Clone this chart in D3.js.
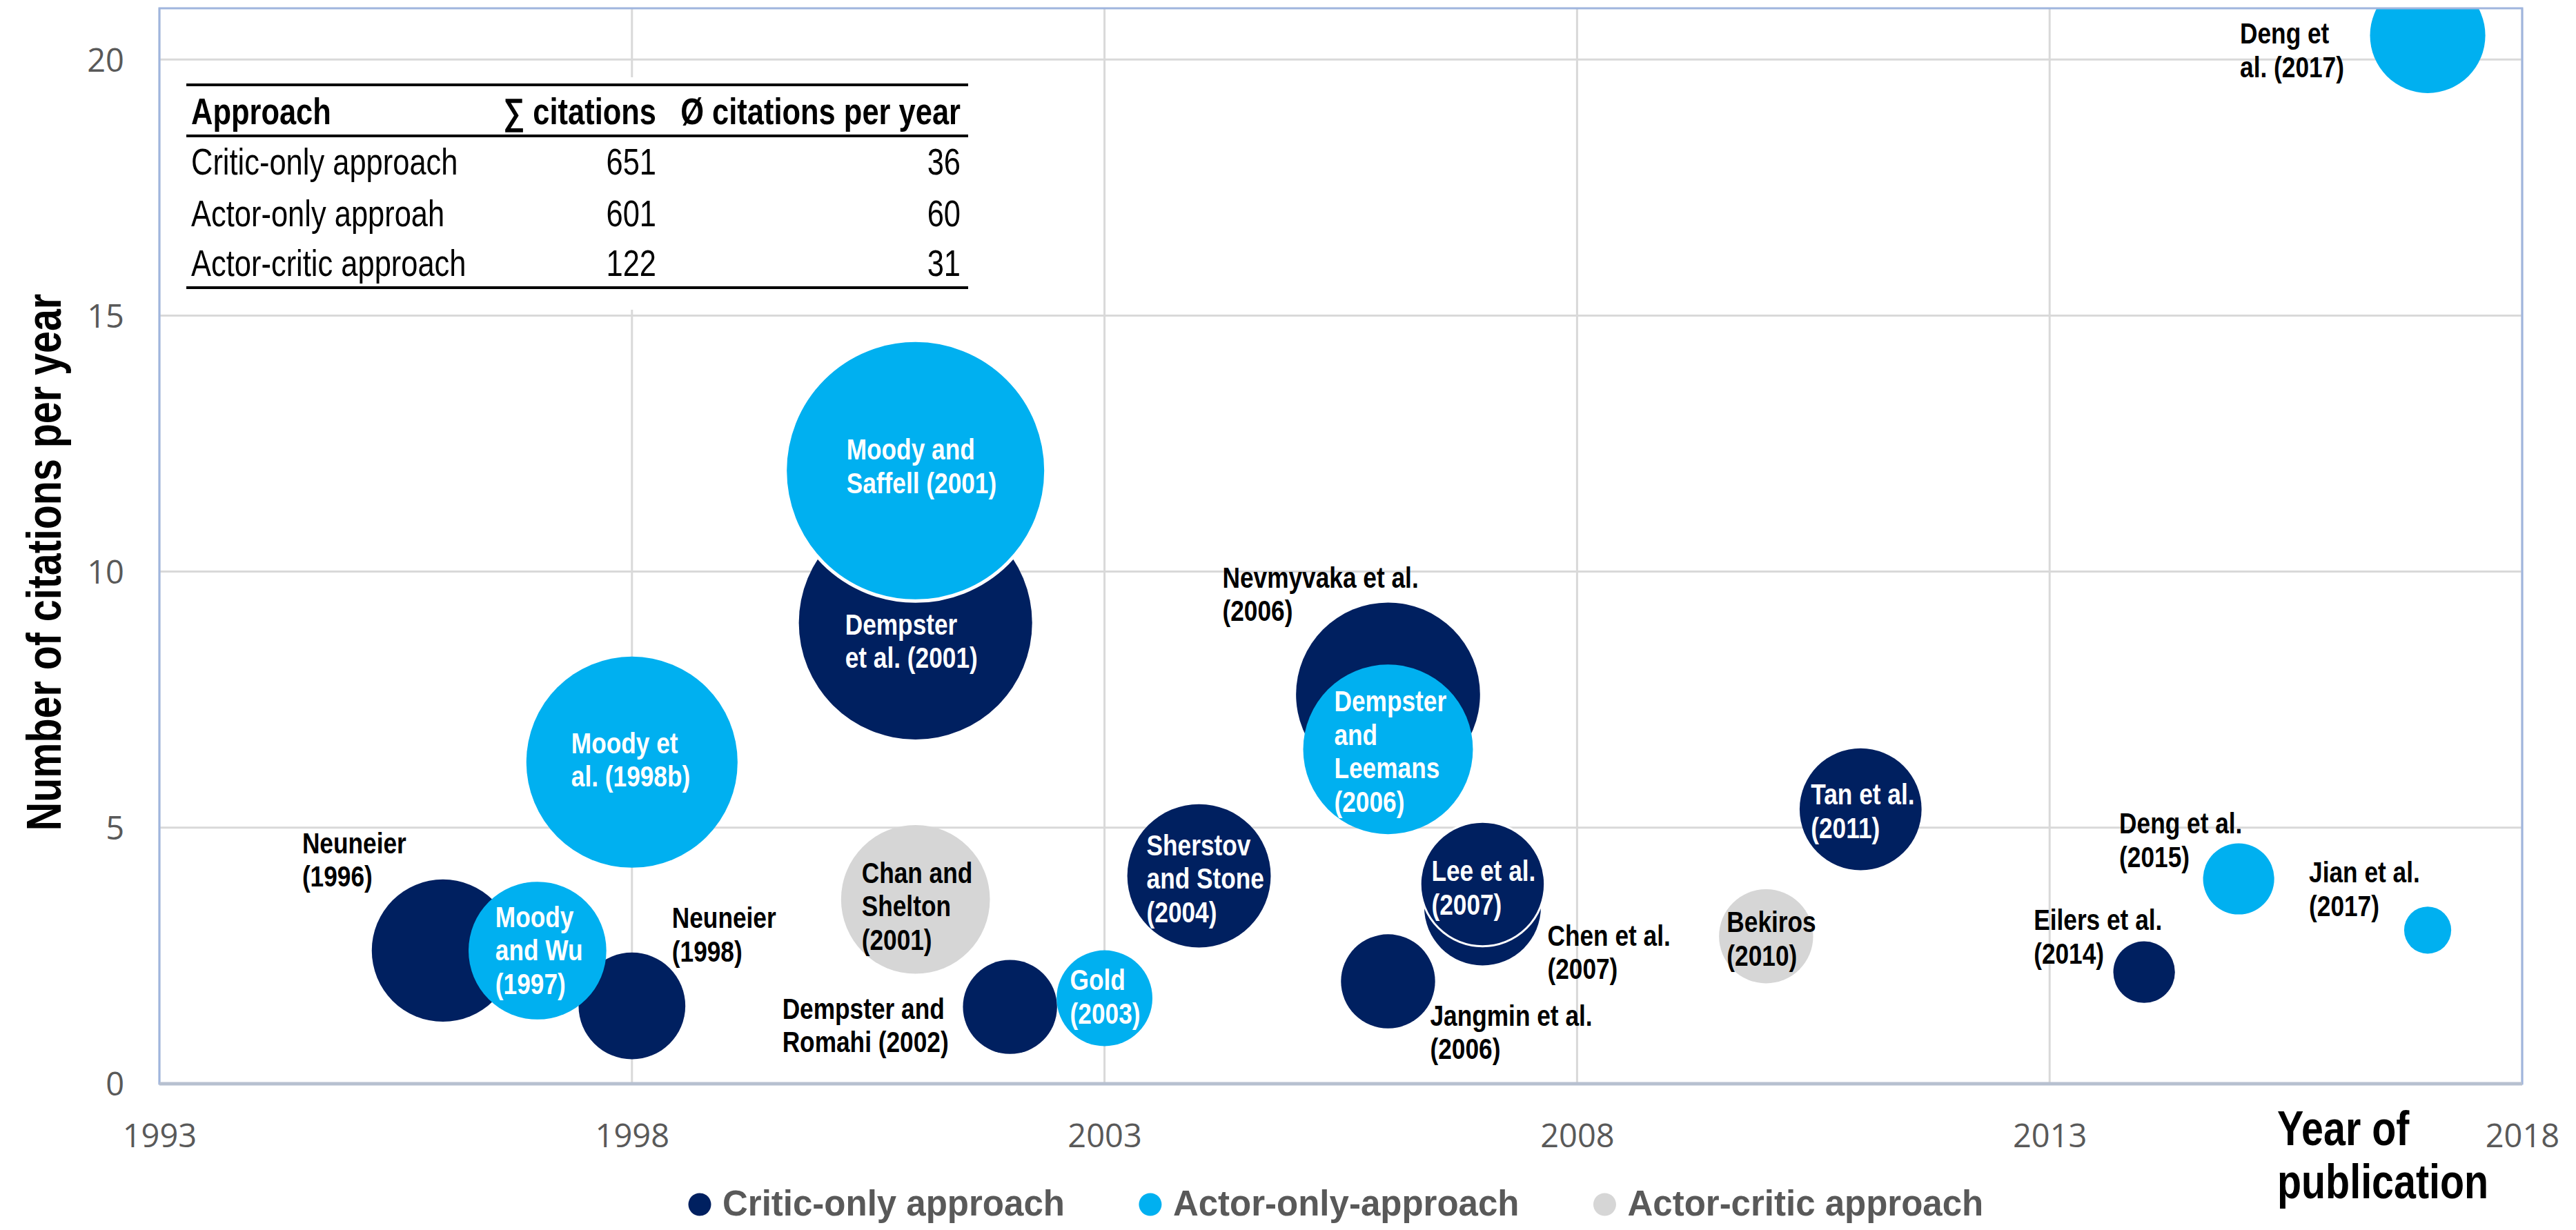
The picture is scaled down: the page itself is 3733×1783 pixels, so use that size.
<!DOCTYPE html>
<html lang="en">
<head>
<meta charset="UTF-8">
<title>Citations per year by reinforcement learning approach</title>
<script src="https://d3js.org/d3.v7.min.js"></script>
<style>
  body { margin: 0; background: #fff; }
  svg { display: block; font-family: "Liberation Sans", Arial, sans-serif; }
</style>
</head>
<body>
<div id="chart"></div>
<script>
// ---- data ----
const authors = [
  "Neuneier (1996)", "Neuneier (1998)", "Dempster et al. (2001)", "Dempster and Romahi (2002)",
  "Sherstov and Stone (2004)", "Nevmyvaka et al. (2006)", "Jangmin et al. (2006)", "Chen et al. (2007)",
  "Lee et al. (2007)", "Tan et al. (2011)", "Eilers et al. (2014)",
  "Moody and Wu (1997)", "Moody et al. (1998b)", "Moody and Saffell (2001)", "Gold (2003)",
  "Dempster and Leemans (2006)", "Deng et al. (2015)", "Jian et al. (2017)", "Deng et al. (2017)",
  "Chan and Shelton (2001)", "Bekiros (2010)"
];
const approaches = [
  "critic", "critic", "critic", "critic", "critic", "critic", "critic", "critic", "critic", "critic", "critic",
  "actor", "actor", "actor", "actor", "actor", "actor", "actor", "actor",
  "actorcritic", "actorcritic"
];
const pubYears = [1996, 1998, 2001, 2002, 2004, 2006, 2006, 2007, 2007, 2011, 2014,
                  1997, 1998, 2001, 2003, 2006, 2015, 2017, 2017,
                  2001, 2010];
const citesPerYear = [2.6, 1.52, 9.0, 1.5, 4.06, 7.6, 2.0, 3.45, 3.9, 5.36, 2.18,
                      2.6, 6.28, 11.97, 1.67, 6.53, 4.0, 3.0, 20.47,
                      3.6, 2.88];
const totalCites = [64, 36, 172, 28, 65, 107, 28, 43, 49, 47, 12,
                    60, 141, 215, 29, 91, 16, 7, 42,
                    70, 28];

const tableHeader = ["Approach", "\u2211 citations", "\u00d8 citations per year"];
const tableApproaches = ["Critic-only approach", "Actor-only approah", "Actor-critic approach"];
const tableSums = [651, 601, 122];
const tableAvgs = [36, 60, 31];

const legendKeys = ["critic", "actor", "actorcritic"];
const legendLabels = ["Critic-only approach", "Actor-only-approach", "Actor-critic approach"];

const xTicks = [1993, 1998, 2003, 2008, 2013, 2018];
const yTicks = [0, 5, 10, 15, 20];

// ---- styling / layout ----
const width = 3733, height = 1783;
const plot = { left: 231, right: 3655, top: 12, bottom: 1571 };

const color = d3.scaleOrdinal()
  .domain(["critic", "actor", "actorcritic"])
  .range(["#002060", "#00b0f0", "#d6d6d6"]);

// label lines and offsets (from bubble centre to first baseline / left edge)
const labelLayout = {
  "Neuneier (1996)":            { lines: ["Neuneier", "(1996)"], dx: -204, dy: -141, fill: "#000" },
  "Neuneier (1998)":            { lines: ["Neuneier", "(1998)"], dx: 58, dy: -113, fill: "#000" },
  "Dempster et al. (2001)":     { lines: ["Dempster", "et al. (2001)"], dx: -102, dy: 17, fill: "#fff" },
  "Dempster and Romahi (2002)": { lines: ["Dempster and", "Romahi (2002)"], dx: -330, dy: 17, fill: "#000" },
  "Sherstov and Stone (2004)":  { lines: ["Sherstov", "and Stone", "(2004)"], dx: -76, dy: -30, fill: "#fff" },
  "Nevmyvaka et al. (2006)":    { lines: ["Nevmyvaka et al.", "(2006)"], dx: -240, dy: -155, fill: "#000" },
  "Jangmin et al. (2006)":      { lines: ["Jangmin et al.", "(2006)"], dx: 61, dy: 64, fill: "#000" },
  "Chen et al. (2007)":         { lines: ["Chen et al.", "(2007)"], dx: 94, dy: 56, fill: "#000" },
  "Lee et al. (2007)":          { lines: ["Lee et al.", "(2007)"], dx: -74, dy: -4, fill: "#fff" },
  "Tan et al. (2011)":          { lines: ["Tan et al.", "(2011)"], dx: -72, dy: -7, fill: "#fff" },
  "Eilers et al. (2014)":       { lines: ["Eilers et al.", "(2014)"], dx: -160, dy: -61, fill: "#000" },
  "Moody and Wu (1997)":        { lines: ["Moody", "and Wu", "(1997)"], dx: -61, dy: -34, fill: "#fff" },
  "Moody et al. (1998b)":       { lines: ["Moody et", "al. (1998b)"], dx: -88, dy: -13, fill: "#fff" },
  "Moody and Saffell (2001)":   { lines: ["Moody and", "Saffell (2001)"], dx: -100, dy: -16, fill: "#fff" },
  "Gold (2003)":                { lines: ["Gold", "(2003)"], dx: -50, dy: -12, fill: "#fff" },
  "Dempster and Leemans (2006)": { lines: ["Dempster", "and", "Leemans", "(2006)"], dx: -78, dy: -55, fill: "#fff" },
  "Deng et al. (2015)":         { lines: ["Deng et al.", "(2015)"], dx: -173, dy: -66, fill: "#000" },
  "Jian et al. (2017)":         { lines: ["Jian et al.", "(2017)"], dx: -172, dy: -69, fill: "#000" },
  "Deng et al. (2017)":         { lines: ["Deng et", "al. (2017)"], dx: -272, dy: 12, fill: "#000" },
  "Chan and Shelton (2001)":    { lines: ["Chan and", "Shelton", "(2001)"], dx: -78, dy: -24, fill: "#000" },
  "Bekiros (2010)":             { lines: ["Bekiros", "(2010)"], dx: -57, dy: -6, fill: "#000" }
};
// bubbles that have a white ring in the original
const outlined = new Map([["Moody and Saffell (2001)", 5], ["Lee et al. (2007)", 3]]);

// squeeze text horizontally to imitate a narrow face
function narrow(sel, k = 0.82) {
  sel.each(function () {
    const w = this.getComputedTextLength();
    this.setAttribute("textLength", w * k);
    this.setAttribute("lengthAdjust", "spacingAndGlyphs");
  });
}

const svg = d3.select("#chart").append("svg")
  .attr("width", width)
  .attr("height", height);

svg.append("rect").attr("width", width).attr("height", height).attr("fill", "#fff");

const x = d3.scaleLinear().domain([1993, 2018]).range([plot.left, plot.right]);
const y = d3.scaleLinear().domain([0, 21]).range([plot.bottom, plot.top]);
const r = d3.scaleSqrt().domain([0, d3.max(totalCites)]).range([0, 189]);

// gridlines
svg.append("g").selectAll("line").data(xTicks).join("line")
  .attr("x1", d => x(d)).attr("x2", d => x(d))
  .attr("y1", plot.top).attr("y2", plot.bottom)
  .attr("stroke", "#d9d9d9").attr("stroke-width", 3);
svg.append("g").selectAll("line").data(yTicks.filter(d => d > 0)).join("line")
  .attr("x1", plot.left).attr("x2", plot.right)
  .attr("y1", d => y(d)).attr("y2", d => y(d))
  .attr("stroke", "#d9d9d9").attr("stroke-width", 3);

// axes (labels only)
const xAxis = svg.append("g")
  .attr("transform", `translate(0,${plot.bottom})`)
  .call(d3.axisBottom(x).tickValues(xTicks).tickFormat(d3.format("d")).tickSize(0));
xAxis.select(".domain").remove();
xAxis.selectAll("text")
  .attr("y", 92).attr("dy", 0)
  .attr("fill", "#595959")
  .style("font-family", "'Open Sans', sans-serif")
  .style("font-size", "47px");

const yAxis = svg.append("g")
  .attr("transform", `translate(${plot.left},0)`)
  .call(d3.axisLeft(y).tickValues(yTicks).tickSize(0));
yAxis.select(".domain").remove();
yAxis.selectAll("text")
  .attr("x", -51).attr("dy", "0.36em")
  .attr("fill", "#595959")
  .style("font-family", "'Open Sans', sans-serif")
  .style("font-size", "47px");

// bubbles
const bubbles = authors.map((a, i) => ({
  name: a, approach: approaches[i], year: pubYears[i], cpy: citesPerYear[i], cites: totalCites[i]
}));

svg.append("clipPath").attr("id", "plotClip")
  .append("rect")
  .attr("x", plot.left).attr("y", plot.top)
  .attr("width", plot.right - plot.left).attr("height", plot.bottom - plot.top);

svg.append("g").attr("clip-path", "url(#plotClip)")
  .selectAll("circle").data(bubbles).join("circle")
  .attr("cx", d => x(d.year))
  .attr("cy", d => y(d.cpy))
  .attr("r", d => r(d.cites))
  .attr("fill", d => color(d.approach))
  .attr("stroke", d => outlined.has(d.name) ? "#fff" : "none")
  .attr("stroke-width", d => outlined.get(d.name) || 0);

// plot frame
svg.append("rect")
  .attr("x", plot.left).attr("y", plot.top)
  .attr("width", plot.right - plot.left).attr("height", plot.bottom - plot.top)
  .attr("fill", "none").attr("stroke", "#9fb5de").attr("stroke-width", 3);
svg.append("line")
  .attr("x1", plot.left).attr("x2", plot.right)
  .attr("y1", plot.bottom).attr("y2", plot.bottom)
  .attr("stroke", "#b7c0d0").attr("stroke-width", 5);

// bubble labels
const labels = svg.append("g").style("font-weight", "bold").style("font-size", "43px");
bubbles.forEach(d => {
  const L = labelLayout[d.name];
  L.lines.forEach((line, j) => {
    labels.append("text")
      .attr("x", x(d.year) + L.dx)
      .attr("y", y(d.cpy) + L.dy + j * 48.5)
      .attr("fill", L.fill)
      .text(line);
  });
});
narrow(labels.selectAll("text"));

// table in the upper-left corner
const table = svg.append("g").style("font-size", "53px");
table.append("rect")
  .attr("x", 240).attr("y", 112).attr("width", 1180).attr("height", 337)
  .attr("fill", "#fff");
const colX = [277, 951, 1392];
const colAnchor = ["start", "end", "end"];
table.selectAll("text.head").data(tableHeader).join("text")
  .attr("class", "head")
  .attr("x", (d, i) => colX[i]).attr("y", 180)
  .attr("text-anchor", (d, i) => colAnchor[i])
  .style("font-weight", "bold")
  .text(d => d);
const rowY = [253, 328, 400];
tableApproaches.forEach((a, i) => {
  [a, tableSums[i], tableAvgs[i]].forEach((v, j) => {
    table.append("text")
      .attr("class", "cell")
      .attr("x", colX[j]).attr("y", rowY[i])
      .attr("text-anchor", colAnchor[j])
      .text(v);
  });
});
narrow(table.selectAll("text"));
[123, 197, 417].forEach(ly => {
  table.append("line")
    .attr("x1", 270).attr("x2", 1403)
    .attr("y1", ly).attr("y2", ly)
    .attr("stroke", "#000").attr("stroke-width", 4);
});

// axis titles
const yTitle = svg.append("text")
  .attr("transform", "translate(88,815) rotate(-90)")
  .attr("text-anchor", "middle")
  .style("font-weight", "bold").style("font-size", "70px")
  .text("Number of citations per year");
narrow(yTitle);

const xTitle = svg.append("g").style("font-weight", "bold").style("font-size", "70px");
["Year of", "publication"].forEach((t, i) => {
  xTitle.append("text").attr("x", 3300).attr("y", 1660 + i * 77).text(t);
});
narrow(xTitle.selectAll("text"));

// legend
const legend = svg.append("g");
let lx = 1014;
legendKeys.forEach((k, i) => {
  legend.append("circle").attr("cx", lx).attr("cy", 1746).attr("r", 16.5).attr("fill", color(k));
  const t = legend.append("text")
    .attr("x", lx + 33).attr("y", 1762)
    .attr("fill", "#595959")
    .style("font-weight", "bold").style("font-size", "51px")
    .text(legendLabels[i]);
  lx += 33 + t.node().getComputedTextLength() + 124;
});
</script>
</body>
</html>
